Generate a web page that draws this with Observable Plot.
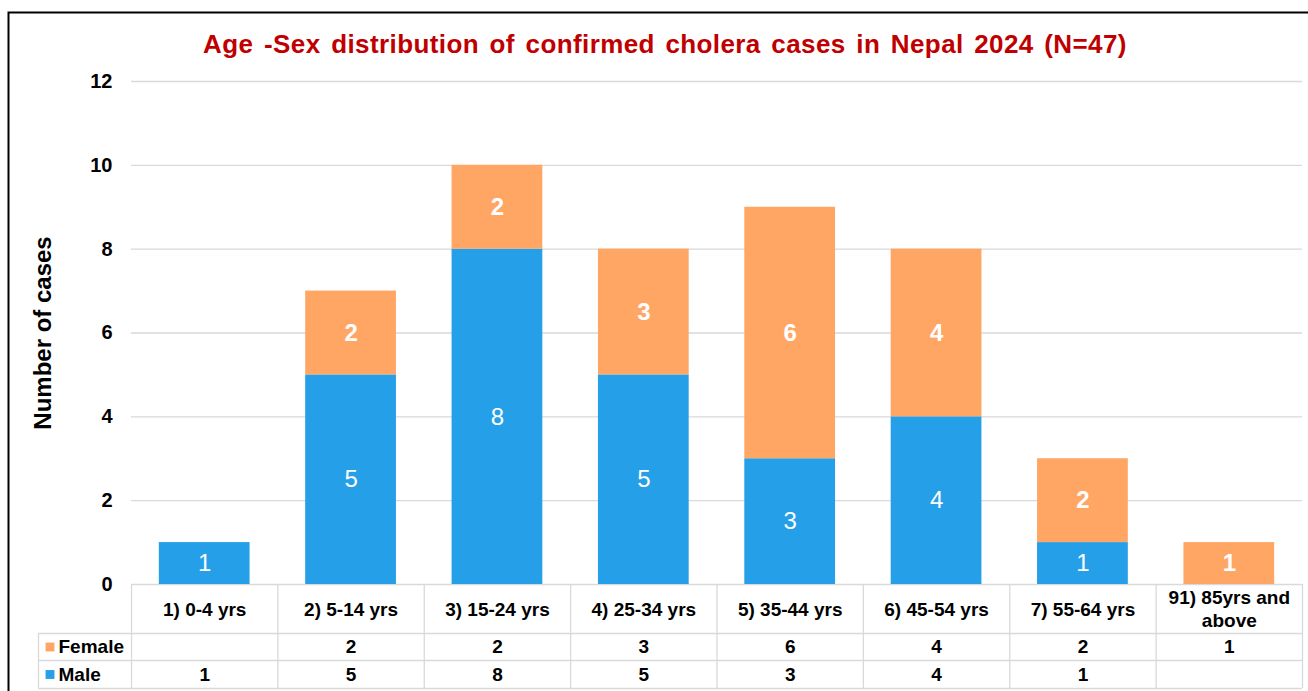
<!DOCTYPE html>
<html>
<head>
<meta charset="utf-8">
<script src="https://cdn.jsdelivr.net/npm/d3@7"></script>
<script src="https://cdn.jsdelivr.net/npm/@observablehq/plot@0.6"></script>
<style>
  html, body { margin: 0; padding: 0; background: #fff; }
  #chart svg { display: block; }
  #chart g[fill="#C00000"] text { word-spacing: 3px; letter-spacing: 0.4px; }
</style>
</head>
<body>
<div id="chart"></div>
<script>
// ---- data ----
const categories = ["1) 0-4 yrs", "2) 5-14 yrs", "3) 15-24 yrs", "4) 25-34 yrs", "5) 35-44 yrs", "6) 45-54 yrs", "7) 55-64 yrs", "91) 85yrs and above"];
const male   = [1, 5, 8, 5, 3, 4, 1, null];
const female = [null, 2, 2, 3, 6, 4, 2, 1];
const series = ["Male", "Female"];
const seriesColors = ["#259FE8", "#FFA664"];
const yTicks = [0, 2, 4, 6, 8, 10, 12];
const titleText = "Age -Sex distribution of confirmed cholera cases in Nepal 2024 (N=47)";
const yLabel = "Number of cases";

// long-format table for the library (Male first => stacked at the bottom)
const values = {Male: male, Female: female};
const rows = [];
series.forEach(s => categories.forEach((c, i) => {
  const v = values[s][i];
  if (v != null) rows.push({age: c, sex: s, value: v});
}));

// ---- layout ----
const W = 1308, H = 691;
const mL = 131, mR = 6, mT = 81, mB = 107;
const step = (W - mL - mR) / categories.length;
const barInset = step * 0.19;
const rowHeader = 49, rowFemale = 76, rowMale = 104; // bottom edges of table rows below the baseline
const legendCol = 93;
const gridColor = "#d9d9d9";
const font = "'Liberation Sans', Arial, Helvetica, sans-serif";
const tableFont = 19;

const tableLines = [rowHeader, rowFemale, rowMale].map(off =>
  Plot.ruleY([0], {dy: off, insetLeft: -legendCol, stroke: gridColor, strokeWidth: 1.3})
);
const femaleRowY = (rowHeader + rowFemale) / 2;
const maleRowY = (rowFemale + rowMale) / 2;

const chart = Plot.plot({
  width: W, height: H,
  marginLeft: mL, marginRight: mR, marginTop: mT, marginBottom: mB,
  style: {fontFamily: font, background: "#fff", color: "#000"},
  x: {type: "band", domain: categories, padding: 0, round: false, axis: null},
  y: {domain: [0, 12], axis: null},
  color: {domain: series, range: seriesColors},
  marks: [
    // outer border
    Plot.frame({stroke: "#000", strokeWidth: 2, insetLeft: -(mL - 8), insetTop: -(mT - 12), insetRight: -30, insetBottom: -(mB + 30)}),
    // gridlines and y axis
    Plot.gridY({ticks: yTicks, stroke: gridColor, strokeOpacity: 1, strokeWidth: 1.3}),
    Plot.axisY({ticks: yTicks, tickSize: 0, tickPadding: 19, fontSize: 20, fontWeight: "bold", label: null}),
    // bars
    Plot.barY(rows, {x: "age", y: "value", fill: "sex", insetLeft: barInset, insetRight: barInset}),
    // bar labels
    Plot.text(rows, Plot.stackY({x: "age", y: "value", z: "sex", text: d => d.sex === "Male" ? d.value : null, fill: "white", fontSize: 24})),
    Plot.text(rows, Plot.stackY({x: "age", y: "value", z: "sex", text: d => d.sex === "Female" ? d.value : null, fill: "white", fontSize: 24, fontWeight: "bold"})),
    // data table lines
    ...tableLines,
    Plot.ruleX(categories, {x: d => d, y1: 0, y2: 0, insetBottom: -rowMale, dx: -step / 2, stroke: gridColor, strokeWidth: 1.3}),
    Plot.ruleX([categories[categories.length - 1]], {x: d => d, y1: 0, y2: 0, insetBottom: -rowMale, dx: step / 2, stroke: gridColor, strokeWidth: 1.3}),
    Plot.ruleX([categories[0]], {x: d => d, y1: 0, y2: 0, insetTop: rowHeader, insetBottom: -rowMale, dx: -step / 2 - legendCol, stroke: gridColor, strokeWidth: 1.3}),
    // data table text
    Plot.text(categories, {x: d => d, text: d => d, frameAnchor: "bottom", lineAnchor: "middle", dy: 24, fontSize: tableFont, fontWeight: "bold", lineWidth: 7.6, lineHeight: 1.2}),
    Plot.text(categories, {x: d => d, text: (d, i) => female[i], frameAnchor: "bottom", lineAnchor: "middle", dy: femaleRowY, fontSize: tableFont, fontWeight: "bold"}),
    Plot.text(categories, {x: d => d, text: (d, i) => male[i], frameAnchor: "bottom", lineAnchor: "middle", dy: maleRowY, fontSize: tableFont, fontWeight: "bold"}),
    // legend keys in the table
    Plot.dot(["Female"], {fill: d => d, symbol: "square", r: 5, frameAnchor: "bottom-left", dx: -81.5, dy: femaleRowY}),
    Plot.dot(["Male"], {fill: d => d, symbol: "square", r: 5, frameAnchor: "bottom-left", dx: -81.5, dy: maleRowY}),
    Plot.text(["Female"], {text: d => d, frameAnchor: "bottom-left", lineAnchor: "middle", dx: -73, dy: femaleRowY, textAnchor: "start", fontSize: tableFont, fontWeight: "bold"}),
    Plot.text(["Male"], {text: d => d, frameAnchor: "bottom-left", lineAnchor: "middle", dx: -73, dy: maleRowY, textAnchor: "start", fontSize: tableFont, fontWeight: "bold"}),
    // title and y label
    Plot.text([titleText], {text: d => d, frameAnchor: "top", lineAnchor: "middle", dx: -52, dy: -37, fill: "#C00000", fontSize: 26, fontWeight: "bold"}),
    Plot.text([yLabel], {text: d => d, frameAnchor: "left", textAnchor: "middle", lineAnchor: "middle", dx: -88, rotate: -90, fontSize: 24, fontWeight: "bold"})
  ]
});
document.getElementById("chart").append(chart);
</script>
</body>
</html>
